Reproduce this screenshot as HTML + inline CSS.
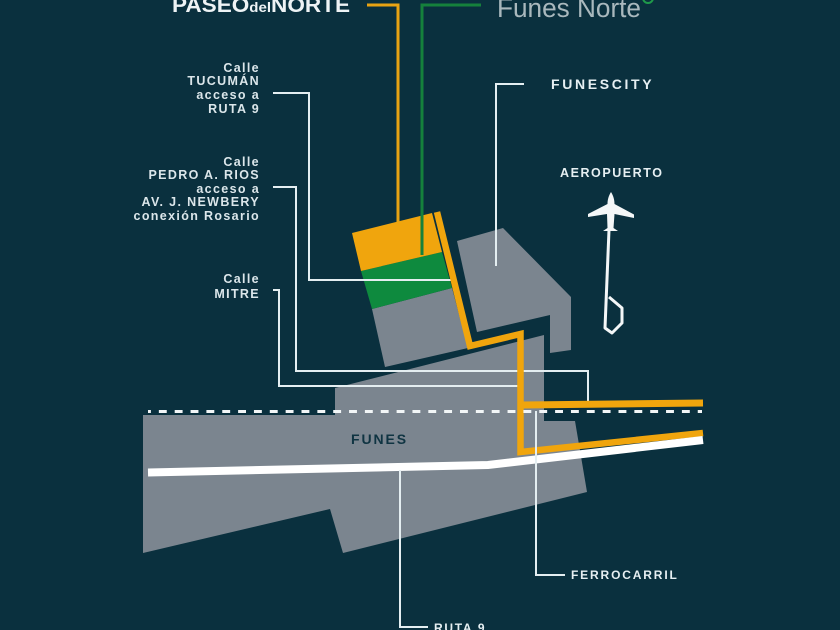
<!DOCTYPE html>
<html>
<head>
<meta charset="utf-8">
<style>
html,body{margin:0;padding:0;background:#0a303e;}
svg{display:block;}
text{font-family:"Liberation Sans",sans-serif;}
.l{font-size:12.5px;font-weight:bold;fill:#dbe6ea;letter-spacing:1.35px;text-anchor:end;}
.t{font-weight:bold;fill:#e6eff2;}
</style>
</head>
<body>
<svg width="840" height="630" viewBox="0 0 840 630" xmlns="http://www.w3.org/2000/svg">
<rect width="840" height="630" fill="#0a303e"/>

<!-- gray areas -->
<polygon points="143,415 335,415 335,388 544,335 544,421 575,421 587,492 343,553 330,509 143,553" fill="#7b858f"/>
<polygon points="457,241 503,228 571,297 571,350 550,353 550,315 477,332" fill="#7b858f"/>
<polygon points="372,309 452,288 468,348 385,367" fill="#7b858f"/>
<polygon points="361,271 442,252 452,288 372,309" fill="#0e8a3e"/>
<polygon points="352,233 432,213 442,252 361,271" fill="#f0a50d"/>

<!-- logos -->
<text x="172" y="12" font-size="21" class="t" textLength="178" lengthAdjust="spacingAndGlyphs" style="fill:#eef3f5">PASEO<tspan font-size="14">del</tspan>NORTE</text>
<text x="497" y="17" font-size="27" textLength="144" lengthAdjust="spacingAndGlyphs" fill="#a9b8bd">Funes Norte</text>
<circle cx="648" cy="-2" r="5" fill="none" stroke="#1f9a4a" stroke-width="2"/>

<!-- orange and green connectors -->
<polyline points="367,5 398,5 398,222" fill="none" stroke="#e8a313" stroke-width="3"/>
<polyline points="481,5 422,5 422,255" fill="none" stroke="#15813c" stroke-width="3"/>

<!-- white leaders -->
<g fill="none" stroke="#e4eef1" stroke-width="2">
<polyline points="273,93 309,93 309,280 452,280"/>
<polyline points="273,187 296,187 296,371 588,371 588,403"/>
<polyline points="273,290 279,290 279,386 520,386"/>
<polyline points="524,84 496,84 496,266"/>
</g>

<!-- orange road -->
<polyline points="437,212 470,346 520.5,334 520.5,452 703,433" fill="none" stroke="#f0a50d" stroke-width="6.5" stroke-linejoin="miter"/>
<polyline points="523,405 703,403" fill="none" stroke="#f0a50d" stroke-width="7"/>

<!-- railway -->
<line x1="148" y1="411.500" x2="702" y2="411.500" stroke="#f2f6f7" stroke-width="3" stroke-dasharray="7.900 7.950" stroke-dashoffset="5"/>

<!-- route 9 -->
<polyline points="148,472.500 488,465 703,440" fill="none" stroke="#ffffff" stroke-width="8"/>

<!-- lower leaders -->
<g fill="none" stroke="#e4eef1" stroke-width="2">
<polyline points="536,411 536,575 565,575"/>
<polyline points="400,470 400,627 428,627"/>
</g>

<!-- plane -->
<path d="M611,192 C613.500,196 614.500,200 614.500,204 L634,214.500 L634,218 L614.500,214 L613.500,228 L618,231 L603,231 L607.500,228 L607,214 L588,217 L588,214 L607.500,204 C607.500,200 608.500,196 611,192 Z" fill="#f4f7f8"/>
<polyline points="609,230 605,328 612,333 622,323 622,308 609,297" fill="none" stroke="#f4f7f8" stroke-width="3" stroke-linejoin="round"/>

<!-- labels -->
<text class="l" x="260" y="72">Calle</text>
<text class="l" x="260" y="85">TUCUMÁN</text>
<text class="l" x="260" y="99">acceso a</text>
<text class="l" x="260" y="113">RUTA 9</text>
<text class="l" x="260" y="166">Calle</text>
<text class="l" x="260" y="179">PEDRO A. RIOS</text>
<text class="l" x="260" y="193">acceso a</text>
<text class="l" x="260" y="206">AV. J. NEWBERY</text>
<text class="l" x="260" y="220">conexión Rosario</text>
<text class="l" x="260" y="283">Calle</text>
<text class="l" x="260" y="298">MITRE</text>

<text class="t" x="551" y="89" font-size="14" letter-spacing="2.650">FUNESCITY</text>
<text class="t" x="560" y="177" font-size="12.500" letter-spacing="1.550">AEROPUERTO</text>
<text x="351" y="444" font-size="14" font-weight="bold" fill="#0f3442" letter-spacing="1.900">FUNES</text>
<text class="t" x="571" y="579" font-size="12" letter-spacing="1.850">FERROCARRIL</text>
<text class="t" x="434" y="632" font-size="12" letter-spacing="1.700">RUTA 9</text>
</svg>
</body>
</html>
